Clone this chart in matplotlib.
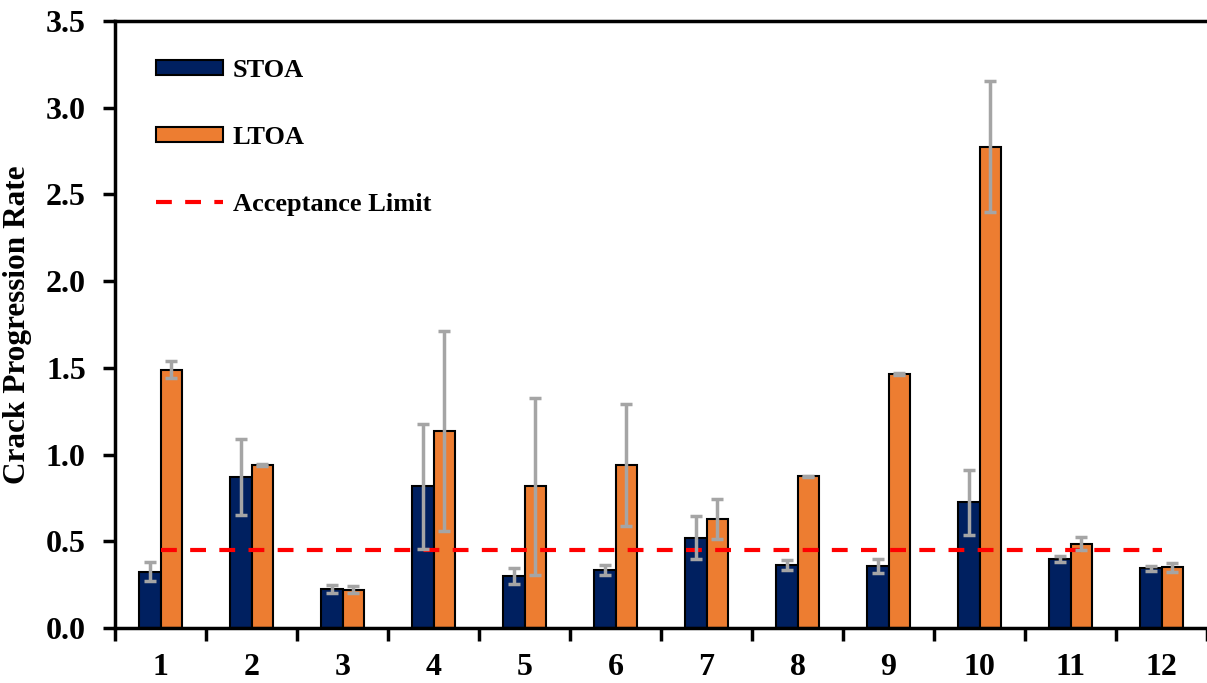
import numpy as np
import matplotlib
matplotlib.use('Agg')
import matplotlib.pyplot as plt

plt.rcParams['font.family'] = ['Liberation Serif', 'DejaVu Serif']
plt.rcParams['font.weight'] = 'bold'

# data
groups = ['1', '2', '3', '4', '5', '6', '7', '8', '9', '10', '11', '12']
stoa = [0.325, 0.87, 0.225, 0.817, 0.30, 0.336, 0.521, 0.365, 0.36, 0.725, 0.40, 0.345]
stoa_err = [0.055, 0.22, 0.025, 0.36, 0.047, 0.03, 0.124, 0.028, 0.04, 0.186, 0.017, 0.014]
ltoa = [1.49, 0.94, 0.222, 1.136, 0.817, 0.94, 0.63, 0.875, 1.465, 2.775, 0.485, 0.35]
ltoa_err = [0.05, 0.008, 0.02, 0.578, 0.512, 0.35, 0.115, 0.004, 0.004, 0.377, 0.037, 0.027]
limit = 0.45

navy = '#002060'
orange = '#ED7D31'
grey = '#A5A5A5'

fig = plt.figure(figsize=(12.07, 6.83), dpi=100)
ax = fig.add_axes([0.0953, 0.0805, 0.9047, 0.8887])

x = np.arange(1, len(groups) + 1)
w = 0.24
err_kw = dict(ecolor=grey, elinewidth=2.5, capsize=4.3, capthick=2.5, zorder=4)
b1 = ax.bar(x - w / 2, stoa, w, color=navy, edgecolor='black', linewidth=1.5,
            label='STOA', zorder=2)
b2 = ax.bar(x + w / 2, ltoa, w, color=orange, edgecolor='black', linewidth=1.5,
            label='LTOA', zorder=2)
ax.errorbar(x - w / 2, stoa, yerr=stoa_err, fmt='none', **err_kw)
ax.errorbar(x + w / 2, ltoa, yerr=ltoa_err, fmt='none', **err_kw)
ln, = ax.plot(x, [limit] * len(x), color='red', linestyle=(0, (3.8, 3.2)),
              linewidth=3, label='Acceptance Limit', zorder=3)

ax.set_xlim(0.5, 12.5)
ax.set_ylim(0, 3.5)
ax.set_yticks(np.arange(0, 3.51, 0.5))
ax.set_yticklabels(['%.1f' % v for v in np.arange(0, 3.51, 0.5)])

# ticks at group borders, labels at centres
ax.set_xticks(np.arange(0.5, 12.6, 1))
ax.set_xticklabels([])
ax.set_xticks(x, minor=True)
ax.set_xticklabels(groups, minor=True)
ax.tick_params(axis='x', which='major', direction='out', length=9, width=2.5)
ax.tick_params(axis='x', which='minor', length=0, pad=18, labelsize=23)
ax.tick_params(axis='y', direction='out', length=9, width=2.5, labelsize=23, pad=12)

for s in ['left', 'bottom', 'top']:
    ax.spines[s].set_linewidth(2.5)
ax.spines['right'].set_visible(False)

ax.set_ylabel('Crack Progression Rate', fontsize=22.5, fontweight='bold', labelpad=10)

ax.legend([b1, b2, ln], ['STOA', 'LTOA', 'Acceptance Limit'],
          loc='upper left', bbox_to_anchor=(0.0375, 0.938), frameon=False,
          fontsize=19, labelspacing=1.67, handlelength=2.55, handleheight=0.5,
          handletextpad=0.35, borderpad=0, borderaxespad=0)

plt.savefig('out.png', dpi=100)
plt.close()
